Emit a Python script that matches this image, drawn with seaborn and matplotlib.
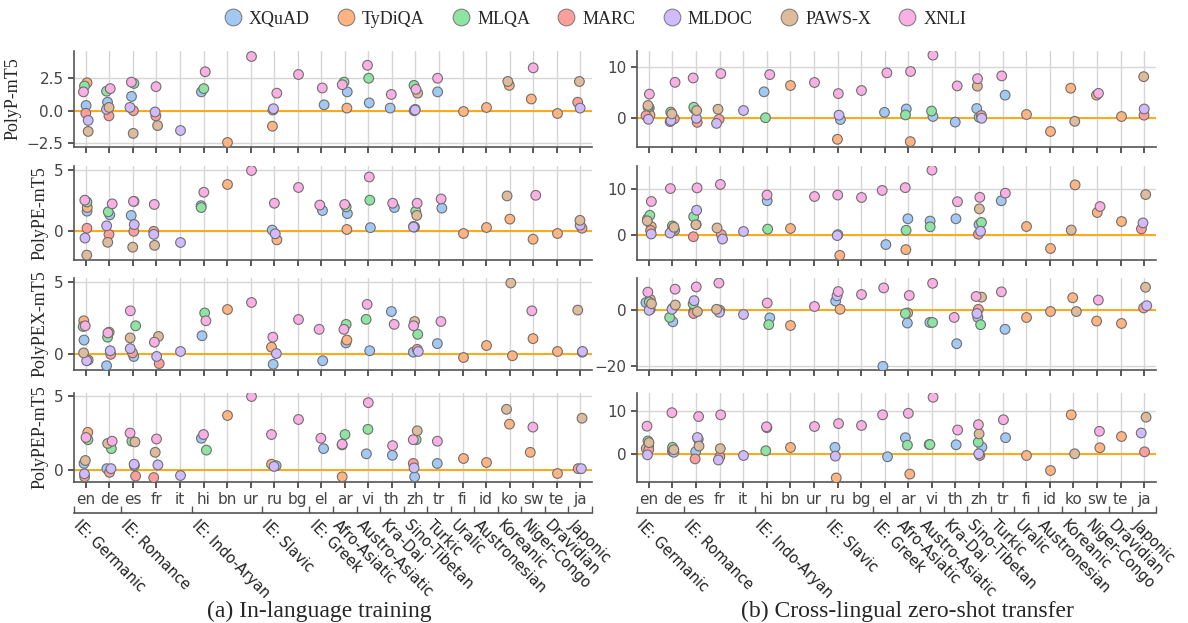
import matplotlib.pyplot as plt
import matplotlib.transforms as mtransforms
import numpy as np
import pandas as pd
import seaborn as sns
from matplotlib.lines import Line2D

LANGS = ["en", "de", "es", "fr", "it", "hi", "bn", "ur", "ru", "bg", "el",
         "ar", "vi", "th", "zh", "tr", "fi", "id", "ko", "sw", "te", "ja"]
TASKS = ["XQuAD", "TyDiQA", "MLQA", "MARC", "MLDOC", "PAWS-X", "XNLI"]

# languages covered by each task (in x-axis order)
TASK_LANGS = {
    "XQuAD": ["en", "de", "es", "hi", "ru", "el", "ar", "vi", "th", "zh", "tr"],
    "TyDiQA": ["en", "bn", "ru", "ar", "fi", "id", "ko", "sw", "te"],
    "MLQA": ["en", "de", "es", "hi", "ar", "vi", "zh"],
    "MARC": ["en", "de", "es", "fr", "zh", "ja"],
    "MLDOC": ["en", "de", "es", "fr", "it", "ru", "zh", "ja"],
    "PAWS-X": ["en", "de", "es", "fr", "zh", "ko", "ja"],
    "XNLI": ["en", "de", "es", "fr", "hi", "ur", "ru", "bg", "el", "ar", "vi",
             "th", "zh", "tr", "sw"],
}

FAMILIES = [("IE: Germanic", 2), ("IE: Romance", 3), ("IE: Indo-Aryan", 3),
            ("IE: Slavic", 2), ("IE: Greek", 1), ("Afro-Asiatic", 1),
            ("Austro-Asiatic", 1), ("Kra-Dai", 1), ("Sino-Tibetan", 1),
            ("Turkic", 1), ("Uralic", 1), ("Austronesian", 1), ("Koreanic", 1),
            ("Niger-Congo", 1), ("Dravidian", 1), ("Japonic", 1)]

# (a) in-language training
in_polyp = {
    "XQuAD": [0.4, 0.65, 1.1, 1.45, 0.05, 0.45, 1.45, 0.6, 0.2, 0.1, 1.45],
    "TyDiQA": [2.15, -2.4, -1.2, 0.2, 0.0, 0.25, 1.95, 0.9, -0.15],
    "MLQA": [1.9, 1.5, 2.1, 1.7, 2.2, 2.5, 1.95],
    "MARC": [-0.2, -0.4, 0.0, -0.4, 0.0, 0.65],
    "MLDOC": [-0.75, 0.1, 0.25, -0.1, -1.5, 0.15, 0.05, 0.2],
    "PAWS-X": [-1.6, 0.25, -1.75, -1.15, 1.35, 2.25, 2.25],
    "XNLI": [1.45, 1.7, 2.2, 1.85, 3.0, 4.25, 1.35, 2.85, 1.75, 2.0, 3.5,
             1.25, 1.65, 2.5, 3.3],
}
in_polype = {
    "XQuAD": [1.6, 1.3, 1.25, 2.05, 0.05, 1.65, 1.4, 0.25, 1.9, 0.3, 1.85],
    "TyDiQA": [1.9, 3.8, -0.75, 0.1, -0.2, 0.3, 0.95, -0.7, -0.2],
    "MLQA": [2.35, 1.55, 2.4, 1.9, 1.95, 2.5, 1.6],
    "MARC": [0.2, -0.3, -0.05, -0.05, 0.35, 0.2],
    "MLDOC": [-0.6, 0.4, 0.5, -0.3, -0.9, -0.25, 0.3, 0.45],
    "PAWS-X": [-2.0, -0.95, -1.35, -1.2, 1.25, 2.85, 0.85],
    "XNLI": [2.5, 2.2, 2.4, 2.15, 3.15, 4.95, 2.25, 3.6, 2.1, 2.15, 4.4,
             2.25, 2.25, 2.6, 2.9],
}
in_polypex = {
    "XQuAD": [0.95, -0.85, -0.2, 1.25, -0.75, -0.5, 0.75, 0.2, 2.95, 0.1, 0.7],
    "TyDiQA": [2.3, 3.15, 0.45, 0.95, -0.25, 0.6, -0.15, 1.05, 0.15],
    "MLQA": [1.9, 1.15, 1.95, 2.85, 2.05, 2.4, 1.35],
    "MARC": [-0.45, -0.05, 0.05, -0.7, 0.3, 0.1],
    "MLDOC": [-0.5, 0.2, 0.35, -0.2, 0.2, 0.0, 0.15, 0.15],
    "PAWS-X": [0.05, 1.5, 1.1, 1.2, 2.25, 4.95, 3.05],
    "XNLI": [1.95, 1.45, 3.0, 0.8, 2.3, 3.65, 1.15, 2.45, 1.7, 1.7, 3.45,
             2.05, 1.95, 2.25, 3.0],
}
in_polypep = {
    "XQuAD": [0.45, 0.1, 0.3, 2.15, 0.3, 1.45, 1.7, 1.1, 1.0, -0.45, 0.45],
    "TyDiQA": [2.55, 3.75, 0.4, -0.45, 0.85, 0.55, 3.1, 1.2, -0.2],
    "MLQA": [2.05, 1.45, 1.95, 1.35, 2.4, 2.75, 2.05],
    "MARC": [-0.45, -0.15, -0.4, -0.5, 0.45, 0.1],
    "MLDOC": [-0.25, 0.1, 0.4, 0.35, -0.3, 0.25, 0.15, 0.1],
    "PAWS-X": [0.65, 1.8, 1.9, 1.2, 2.65, 4.1, 3.5],
    "XNLI": [2.2, 1.95, 2.5, 2.1, 2.4, 5.0, 2.4, 3.45, 2.15, 1.75, 4.55,
             1.65, 2.05, 1.95, 2.9],
}

# (b) cross-lingual zero-shot transfer
zs_polyp = {
    "XQuAD": [2.0, -0.65, 1.8, 5.15, -0.25, 1.15, 1.8, 0.35, -0.75, 1.9, 4.5],
    "TyDiQA": [0.6, 6.5, -4.1, -4.55, 0.85, -2.5, 5.85, 4.5, 0.45],
    "MLQA": [2.15, 1.2, 2.15, 0.1, 0.65, 1.4, 0.2],
    "MARC": [0.5, -0.1, -0.8, -0.2, 0.55, 0.6],
    "MLDOC": [-0.2, -0.45, 0.0, -1.0, 1.55, 0.6, 0.0, 1.8],
    "PAWS-X": [2.5, 0.85, 1.5, 1.75, 6.25, -0.6, 8.1],
    "XNLI": [4.7, 7.0, 7.85, 8.7, 8.5, 7.0, 4.8, 5.5, 8.85, 9.1, 12.3,
             6.3, 7.7, 8.25, 4.85],
}
zs_polype = {
    "XQuAD": [3.45, 0.9, 2.2, 7.35, 0.0, -2.15, 3.45, 2.95, 3.45, 2.2, 7.35],
    "TyDiQA": [1.75, 1.45, -4.5, -3.25, 1.85, -2.8, 10.8, 4.8, 2.95],
    "MLQA": [4.2, 1.9, 3.9, 1.2, 0.95, 1.7, 2.65],
    "MARC": [0.9, 1.2, -0.45, 0.0, 0.1, 1.25],
    "MLDOC": [0.15, 0.35, 5.3, -0.95, 0.75, -0.2, 0.75, 2.55],
    "PAWS-X": [3.0, 1.6, 2.15, 1.45, 5.6, 1.0, 8.7],
    "XNLI": [7.2, 10.0, 10.15, 10.9, 8.6, 8.4, 8.6, 8.15, 9.6, 10.2, 14.0,
             7.15, 8.1, 9.0, 6.1],
}
zs_polypex = {
    "XQuAD": [2.5, -4.35, -0.7, -2.95, 3.05, -20.3, -4.8, -4.6, -12.2, -2.8,
              -7.05],
    "TyDiQA": [3.65, -5.5, 0.1, -1.2, -2.7, -0.45, 4.25, -4.1, -4.7],
    "MLQA": [2.7, -2.8, 2.0, -5.4, -1.4, -4.6, -5.4],
    "MARC": [0.1, 0.5, -1.4, -0.2, 0.1, 0.6],
    "MLDOC": [-0.25, 0.1, 3.2, -0.95, -1.4, 4.95, -1.4, 1.4],
    "PAWS-X": [2.1, 1.65, -0.7, 0.1, 4.45, -0.7, 8.0],
    "XNLI": [6.25, 7.3, 8.1, 9.5, 2.35, 1.4, 6.45, 5.5, 7.75, 5.05, 9.4,
             -2.8, 4.7, 6.35, 3.4],
}
zs_polypep = {
    "XQuAD": [1.9, 0.7, 0.6, 6.2, 1.6, -0.6, 3.85, 2.25, 2.2, 1.65, 3.85],
    "TyDiQA": [1.3, 1.7, -5.55, -4.65, -0.2, -3.75, 9.2, 1.5, 4.35],
    "MLQA": [3.1, 1.6, 3.5, 0.8, 2.1, 2.25, 2.8],
    "MARC": [1.05, 0.9, -1.1, -0.6, -0.3, 0.55],
    "MLDOC": [-0.15, 0.45, 3.9, -1.35, -0.1, -0.45, 0.1, 4.95],
    "PAWS-X": [2.7, 1.05, 1.9, 1.3, 4.75, 0.1, 8.65],
    "XNLI": [6.55, 9.7, 8.8, 9.2, 6.4, 6.6, 7.15, 6.75, 9.2, 9.55, 13.3,
             5.65, 6.9, 8.05, 5.35],
}

ROW_NAMES = ["PolyP-mT5", "PolyPE-mT5", "PolyPEX-mT5", "PolyPEP-mT5"]
LEFT_DATA = [in_polyp, in_polype, in_polypex, in_polypep]
RIGHT_DATA = [zs_polyp, zs_polype, zs_polypex, zs_polypep]
LEFT_YLIM = [(-2.8, 4.6), (-2.4, 5.3), (-1.15, 5.3), (-0.8, 5.2)]
LEFT_YTICKS = [[-2.5, 0, 2.5], [0, 5], [0, 5], [0, 5]]
RIGHT_YLIM = [(-5.6, 13.1), (-5.5, 14.9), (-21.6, 11.3), (-6.5, 14.3)]
RIGHT_YTICKS = [[0, 10], [0, 10], [-20, 0], [0, 10]]

SERIF = "Liberation Serif"


def panel_frame(values):
    rows = []
    for task in TASKS:
        for lang, v in zip(TASK_LANGS[task], values[task]):
            rows.append((lang, task, v))
    return pd.DataFrame(rows, columns=["lang", "task", "score"])


def draw_families(ax):
    """language-family bracket axis under the bottom panel"""
    bounds = [-0.5]
    for _, n in FAMILIES:
        bounds.append(bounds[-1] + n)
    sec = ax.secondary_xaxis(-0.35)
    sec.set_xticks(bounds)
    sec.tick_params(direction="in", length=5, width=1, color="#555555",
                    labelbottom=False)
    sec.spines["bottom"].set_color("#555555")
    sec.spines["bottom"].set_linewidth(1.2)
    trans = mtransforms.blended_transform_factory(ax.transData, ax.transAxes)
    for (name, _), start in zip(FAMILIES, bounds[:-1]):
        ax.text(start + 0.32, -0.40, name, transform=trans, rotation=-45,
                rotation_mode="anchor", ha="left", va="top", fontsize=10.5,
                color="#222222", clip_on=False)


if __name__ == "__main__":
    sns.set_theme(style="whitegrid", palette="pastel", rc={
        "axes.edgecolor": "#555555",
        "axes.linewidth": 1.2,
        "grid.color": "#d6d6d6",
        "grid.linewidth": 1.0,
        "xtick.bottom": True,
        "ytick.left": True,
        "xtick.major.size": 4,
        "ytick.major.size": 4,
        "xtick.color": "#444444",
        "ytick.color": "#444444",
        "xtick.labelsize": 11,
        "ytick.labelsize": 11,
    })
    plt.rcParams["font.family"] = ["DejaVu Sans"]
    np.random.seed(3)
    colors = sns.color_palette("pastel", len(TASKS))

    fig = plt.figure(figsize=(11.88, 6.23), dpi=100)
    W, H = 1188, 623
    rows_px = [(51, 147), (166, 260), (278, 370), (393, 482)]
    cols_px = [(74, 592), (637, 1156)]

    for c, (datasets, ylims, yticks) in enumerate(
            [(LEFT_DATA, LEFT_YLIM, LEFT_YTICKS),
             (RIGHT_DATA, RIGHT_YLIM, RIGHT_YTICKS)]):
        x0, x1 = cols_px[c]
        for r, values in enumerate(datasets):
            y0, y1 = rows_px[r]
            ax = fig.add_axes([x0 / W, 1 - y1 / H, (x1 - x0) / W, (y1 - y0) / H])
            df = panel_frame(values)
            ax.axhline(0, color="orange", lw=1.3, zorder=0.9)
            sns.stripplot(data=df, x="lang", y="score", hue="task",
                          order=LANGS, hue_order=TASKS, palette=colors,
                          jitter=0.13, size=7, linewidth=0.8,
                          edgecolor="gray", legend=False, ax=ax)
            ax.set_xlim(-0.5, len(LANGS) - 0.5)
            ax.set_ylim(*ylims[r])
            ax.set_yticks(yticks[r])
            ax.grid(True, axis="both")
            sns.despine(ax=ax)
            ax.set_xlabel("")
            ax.set_ylabel(ROW_NAMES[r] if c == 0 else "", family=SERIF,
                          fontsize=13)
            if r < 3:
                ax.tick_params(labelbottom=False)
            else:
                draw_families(ax)

    handles = [Line2D([], [], marker="o", linestyle="none", markersize=12,
                      markerfacecolor=col, markeredgecolor="gray",
                      markeredgewidth=0.8) for col in colors]
    fig.legend(handles, TASKS, loc="center", bbox_to_anchor=(0.5, 0.969),
               ncol=len(TASKS), frameon=False, handlelength=1.2,
               handletextpad=0.3, columnspacing=1.4,
               prop={"family": SERIF, "size": 13})

    fig.text(0.269, 0.019, "(a) In-language training", ha="center",
             va="center", family=SERIF, fontsize=17)
    fig.text(0.764, 0.019, "(b) Cross-lingual zero-shot transfer",
             ha="center", va="center", family=SERIF, fontsize=17)

    fig.savefig("out.png", dpi=100)
